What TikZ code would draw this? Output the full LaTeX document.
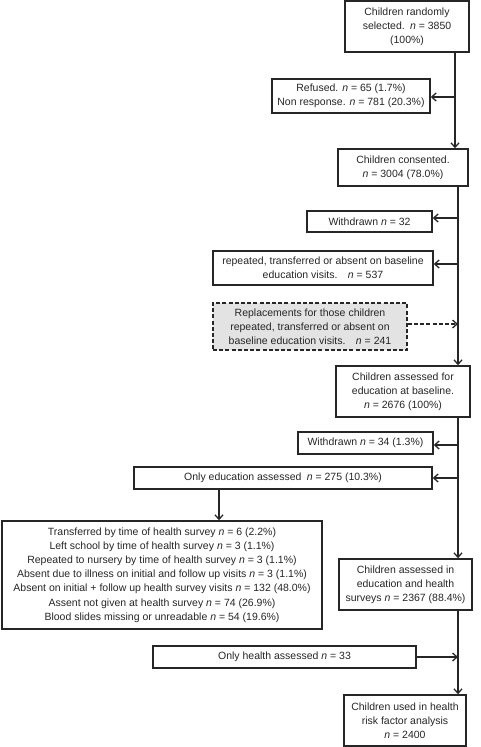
\documentclass[tikz,border=0pt]{standalone}
\usepackage{fontspec}
\setmainfont{Liberation Sans}
\usetikzlibrary{arrows.meta}
\definecolor{ink}{HTML}{262626}
\definecolor{shade}{HTML}{E3E3E3}
\begin{document}
\begin{tikzpicture}[x=1pt,y=-1pt,
  box/.style={draw=ink, line width=1.4pt, text=ink, inner sep=0pt, align=center,
    font=\fontsize{10.5}{14.2}\selectfont},
  arr/.style={draw=ink, line width=1.4pt, -{Straight Barb[length=4.5pt,width=8pt,line width=1.3pt]}},
  dashbox/.style={box, fill=shade, dash pattern=on 4pt off 2.2pt},
]
\useasboundingbox (0,0) rectangle (480,747);

\node[box, minimum width=124pt, minimum height=51pt] (b1) at (407,26.5)
  {Children randomly\\selected.\enspace\textit{n} = 3850\\(100\%)};
\node[box, minimum width=158pt, minimum height=34pt] (refused) at (351,96)
  {Refused. \textit{n} = 65 (1.7\%)\\Non response. \textit{n} = 781 (20.3\%)};
\node[box, minimum width=130pt, minimum height=37pt] (consent) at (403,167.5)
  {Children consented.\\\textit{n} = 3004 (78.0\%)};
\node[box, minimum width=125pt, minimum height=21pt] (wd1) at (369.5,221.5)
  {Withdrawn \textit{n} = 32};
\node[box, minimum width=220pt, minimum height=34pt] (rep) at (323,268)
  {repeated, transferred or absent on baseline\\education visits.\quad\textit{n} = 537};
\node[dashbox, minimum width=194pt, minimum height=47pt] (repl) at (310,326.5)
  {Replacements for those children\\repeated, transferred or absent on\\baseline education visits.\quad\textit{n} = 241};
\node[box, minimum width=134pt, minimum height=51pt] (base) at (403,391.5)
  {Children assessed for\\education at baseline.\\\textit{n} = 2676 (100\%)};
\node[box, minimum width=135pt, minimum height=22pt] (wd2) at (365.5,443)
  {Withdrawn \textit{n} = 34 (1.3\%)};
\node[box, minimum width=298pt, minimum height=22pt] (oned) at (283,478)
  {Only education assessed\enspace\textit{n} = 275 (10.3\%)};
\node[box, minimum width=320pt, minimum height=108pt] (big) at (162,575)
  {Transferred by time of health survey \textit{n} = 6 (2.2\%)\\
   Left school by time of health survey \textit{n} = 3 (1.1\%)\\
   Repeated to nursery by time of health survey \textit{n} = 3 (1.1\%)\\
   Absent due to illness on initial and follow up visits \textit{n} = 3 (1.1\%)\\
   Absent on initial + follow up health survey visits \textit{n} = 132 (48.0\%)\\
   Assent not given at health survey \textit{n} = 74 (26.9\%)\\
   Blood slides missing or unreadable \textit{n} = 54 (19.6\%)};
\node[box, minimum width=133pt, minimum height=51pt] (both) at (405.5,584.5)
  {Children assessed in\\education and health\\surveys \textit{n} = 2367 (88.4\%)};
\node[box, minimum width=263pt, minimum height=22pt] (onh) at (284.5,657)
  {Only health assessed \textit{n} = 33};
\node[box, minimum width=122pt, minimum height=51pt] (final) at (405,720.5)
  {Children used in health\\risk factor analysis\\\textit{n} = 2400};

\coordinate (j1) at (455,97);
\coordinate (j2) at (458,218);
\coordinate (j3) at (458,264);
\coordinate (j4) at (458,324);
\coordinate (j5) at (458,445);
\coordinate (j6) at (458,478);
\coordinate (j7) at (458,657);
\coordinate (d1) at (219,500);

\draw[arr] (b1.south -| j1) -- (consent.north -| j1);
\draw[arr] (j1) -- (refused.east |- j1);
\draw[arr] (consent.south -| j2) -- (base.north -| j2);
\draw[arr] (j2) -- (wd1.east |- j2);
\draw[arr] (j3) -- (rep.east |- j3);
\draw[arr, dash pattern=on 4pt off 2.2pt] (repl.east |- j4) -- (j4);
\draw[arr] (base.south -| j5) -- (both.north -| j5);
\draw[arr] (j5) -- (wd2.east |- j5);
\draw[arr] (j6) -- (oned.east |- j6);
\draw[arr] (oned.south -| d1) -- (big.north -| d1);
\draw[arr] (both.south -| j7) -- (final.north -| j7);
\draw[arr] (onh.east |- j7) -- (j7);
\end{tikzpicture}
\end{document}
